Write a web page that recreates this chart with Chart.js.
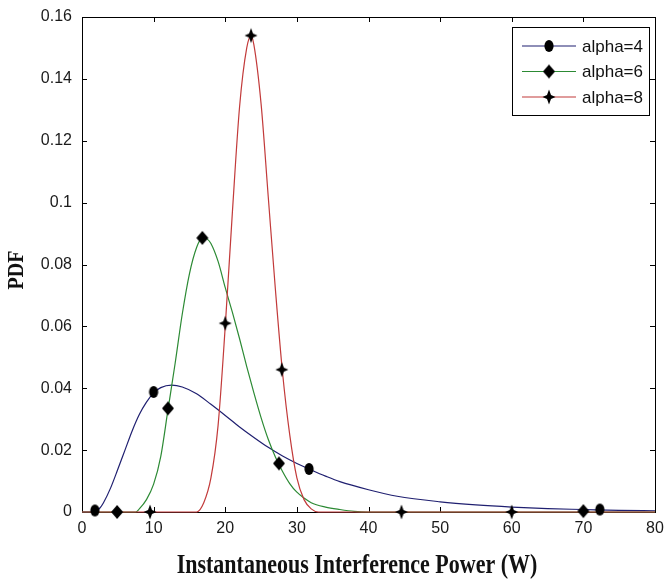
<!DOCTYPE html>
<html>
<head>
<meta charset="utf-8">
<script src="https://cdn.jsdelivr.net/npm/chart.js@4.4.1/dist/chart.umd.min.js"></script>
<style>
  body { margin: 0; background: #fff; }
  canvas { display: block; }
</style>
</head>
<body>
<canvas id="pdfChart" width="664" height="588"></canvas>
<script>
// tick values
const xTicks = [0, 10, 20, 30, 40, 50, 60, 70, 80];
const yTicks = [0, 0.02, 0.04, 0.06, 0.08, 0.1, 0.12, 0.14, 0.16];

// curves (power in W, pdf)
const alpha4X = [0, 1.5, 2, 2.5, 3, 4, 5, 6, 7, 8, 9, 10, 11, 12.5, 14, 16, 18, 20, 22, 24, 26, 28, 30, 32, 34, 36, 40, 44, 50, 55, 60, 65, 70, 75, 80];
const alpha4Y = [0, 0, 0.0005, 0.0013, 0.003, 0.0078, 0.0138, 0.0200, 0.0262, 0.0315, 0.0355, 0.0385, 0.0402, 0.041, 0.0404, 0.0382, 0.0348, 0.0312, 0.0275, 0.0241, 0.0209, 0.0181, 0.0157, 0.0136, 0.0116, 0.0098, 0.0072, 0.0051, 0.0033, 0.0023, 0.0016, 0.0011, 0.0008, 0.0005, 0.0004];

const alpha6X = [0, 7.5, 8, 9, 10, 11, 12, 13, 14, 15, 16, 16.8, 17.5, 18, 19, 20, 21, 22, 23, 24, 25, 26, 27, 28, 29, 30, 31, 32, 34, 36, 38, 40, 80];
const alpha6Y = [0, 0, 0.001, 0.004, 0.009, 0.018, 0.033, 0.048, 0.064, 0.077, 0.0855, 0.0886, 0.0882, 0.0868, 0.081, 0.0725, 0.0645, 0.056, 0.047, 0.0385, 0.0305, 0.0235, 0.0178, 0.0131, 0.0092, 0.0064, 0.0045, 0.003, 0.0016, 0.0008, 0.0002, 0, 0];

const alpha8X = [0, 16, 17, 18, 19, 20, 21, 22, 23, 23.6, 24, 25, 26, 27, 28, 29, 30, 31, 32, 33, 80];
const alpha8Y = [0, 0, 0.003, 0.011, 0.028, 0.060, 0.097, 0.131, 0.150, 0.154, 0.151, 0.132, 0.102, 0.072, 0.045, 0.025, 0.011, 0.004, 0.001, 0, 0];

// marker positions
const alpha4MarkX = [1.8, 10, 31.7, 72.3];
const alpha4MarkY = [0.0005, 0.0388, 0.0139, 0.0008];
const alpha6MarkX = [4.9, 12.0, 16.8, 27.5, 70];
const alpha6MarkY = [0, 0.0335, 0.0886, 0.0157, 0.0003];
const alpha8MarkX = [9.5, 20.0, 23.6, 27.9, 44.6, 60];
const alpha8MarkY = [0, 0.061, 0.154, 0.046, 0, 0];

const seriesLabels = ['alpha=4', 'alpha=6', 'alpha=8'];
const lineColors = ['#1f1f70', '#2c8a34', '#c23a3a'];

function toPoints(xs, ys) {
  return xs.map((x, i) => ({ x: x, y: ys[i] }));
}

// markers look a bit taller than wide in the original
function makeMarker(kind) {
  const c = document.createElement('canvas');
  c.width = 16; c.height = 18;
  const g = c.getContext('2d');
  g.fillStyle = '#000';
  g.beginPath();
  if (kind === 'circle') {
    g.ellipse(8, 9, 4.6, 6, 0, 0, Math.PI * 2);
  } else if (kind === 'diamond') {
    g.moveTo(8, 2); g.lineTo(14, 9); g.lineTo(8, 16); g.lineTo(2, 9);
  } else {
    g.moveTo(8, 1.5); g.lineTo(10, 7); g.lineTo(14.5, 9); g.lineTo(10, 11);
    g.lineTo(8, 16.5); g.lineTo(6, 11); g.lineTo(1.5, 9); g.lineTo(6, 7);
  }
  g.closePath();
  g.fill();
  return c;
}
const markers = [makeMarker('circle'), makeMarker('diamond'), makeMarker('star')];

function curve(i, xs, ys) {
  return {
    label: seriesLabels[i],
    data: toPoints(xs, ys),
    showLine: true,
    borderColor: lineColors[i],
    borderWidth: 1.2,
    pointRadius: 0,
    cubicInterpolationMode: 'monotone',
    clip: false,
    order: 3 - i
  };
}
function marks(i, xs, ys) {
  return {
    label: seriesLabels[i] + ' markers',
    data: toPoints(xs, ys),
    showLine: false,
    pointStyle: markers[i],
    pointRadius: 6,
    clip: false,
    order: 0
  };
}

const framePlugin = {
  id: 'frame',
  beforeDatasetsDraw(chart) {
    const { ctx, chartArea: a, scales } = chart;
    ctx.save();
    ctx.strokeStyle = '#000';
    ctx.lineWidth = 1;
    ctx.strokeRect(a.left + 0.5, a.top + 0.5, a.right - a.left, a.bottom - a.top);
    ctx.beginPath();
    xTicks.forEach(v => {
      const px = Math.round(scales.x.getPixelForValue(v)) + 0.5;
      ctx.moveTo(px, a.bottom); ctx.lineTo(px, a.bottom - 5);
      ctx.moveTo(px, a.top); ctx.lineTo(px, a.top + 5);
    });
    yTicks.forEach(v => {
      const py = Math.round(scales.y.getPixelForValue(v)) + 0.5;
      ctx.moveTo(a.left, py); ctx.lineTo(a.left + 5, py);
      ctx.moveTo(a.right, py); ctx.lineTo(a.right - 5, py);
    });
    ctx.stroke();
    ctx.restore();
  },
  afterDraw(chart) {
    const ctx = chart.ctx;
    ctx.save();
    // axis titles
    ctx.fillStyle = '#111';
    ctx.textAlign = 'center';
    ctx.textBaseline = 'middle';
    ctx.save();
    ctx.translate(357, 566);
    ctx.scale(1, 1.25);
    ctx.font = 'bold 22px "Liberation Serif"';
    ctx.fillText('Instantaneous Interference Power (W)', 0, 0);
    ctx.restore();
    ctx.save();
    ctx.translate(17, 270);
    ctx.rotate(-Math.PI / 2);
    ctx.scale(1, 1.2);
    ctx.font = 'bold 20px "Liberation Serif"';
    ctx.fillText('PDF', 0, 0);
    ctx.restore();

    // legend box
    const bx = 512, by = 27, bw = 137, bh = 88;
    ctx.fillStyle = '#fff';
    ctx.fillRect(bx, by, bw, bh);
    ctx.strokeStyle = '#000';
    ctx.lineWidth = 1;
    ctx.strokeRect(bx + 0.5, by + 0.5, bw, bh);
    ctx.font = '17px "Liberation Sans"';
    ctx.textAlign = 'left';
    seriesLabels.forEach((lab, i) => {
      const ry = 46 + i * 25.5;
      ctx.strokeStyle = lineColors[i];
      ctx.lineWidth = 1.2;
      ctx.beginPath();
      ctx.moveTo(522, ry); ctx.lineTo(576, ry);
      ctx.stroke();
      ctx.drawImage(markers[i], 549 - 8, ry - 9);
      ctx.fillStyle = '#111';
      ctx.fillText(lab, 582, ry + 1);
    });
    ctx.restore();
  }
};

new Chart(document.getElementById('pdfChart'), {
  type: 'scatter',
  data: {
    datasets: [
      curve(0, alpha4X, alpha4Y),
      curve(1, alpha6X, alpha6Y),
      curve(2, alpha8X, alpha8Y),
      marks(0, alpha4MarkX, alpha4MarkY),
      marks(1, alpha6MarkX, alpha6MarkY),
      marks(2, alpha8MarkX, alpha8MarkY)
    ]
  },
  options: {
    responsive: false,
    animation: false,
    layout: { padding: { left: 0, top: 17, right: 9, bottom: 0 } },
    plugins: {
      legend: { display: false },
      tooltip: { enabled: false }
    },
    scales: {
      x: {
        type: 'linear',
        min: 0,
        max: 80,
        afterBuildTicks: s => { s.ticks = xTicks.map(v => ({ value: v })); },
        afterFit: s => { s.height = 76; s.paddingLeft = 0; s.paddingRight = 0; },
        grid: { display: false, drawTicks: false },
        border: { display: false },
        ticks: {
          padding: 7,
          maxRotation: 0,
          color: '#1a1a1a',
          font: { family: 'Liberation Sans', size: 16 },
          callback: v => String(v)
        }
      },
      y: {
        type: 'linear',
        min: 0,
        max: 0.16,
        afterBuildTicks: s => { s.ticks = yTicks.map(v => ({ value: v })); },
        afterFit: s => { s.width = 82; s.paddingTop = 0; s.paddingBottom = 0; },
        grid: { display: false, drawTicks: false },
        border: { display: false },
        ticks: {
          padding: 10,
          color: '#1a1a1a',
          font: { family: 'Liberation Sans', size: 16 },
          callback: v => String(+v.toFixed(2))
        }
      }
    }
  },
  plugins: [framePlugin]
});
</script>
</body>
</html>
